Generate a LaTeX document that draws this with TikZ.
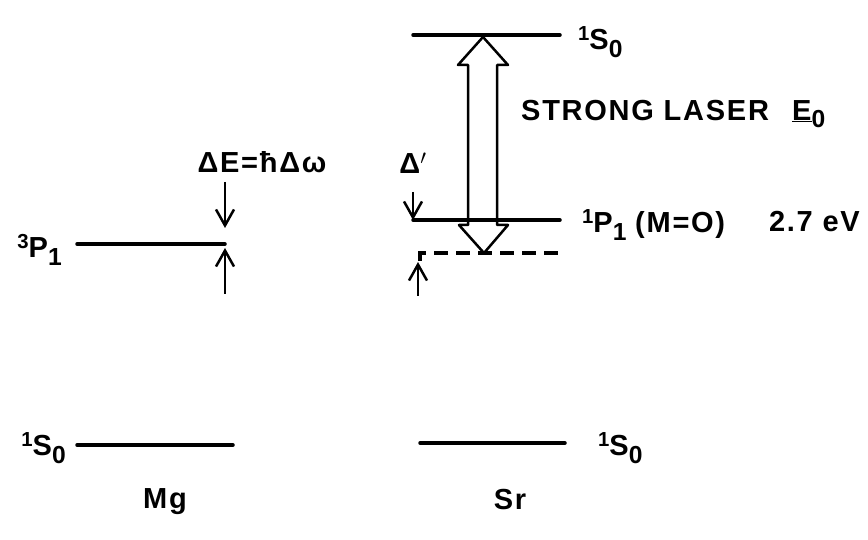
\documentclass[tikz,border=0pt]{standalone}
\usepackage{fontspec}
\setmainfont[LetterSpace=6]{Liberation Sans}
\usetikzlibrary{arrows.meta,calc}
\definecolor{ink}{HTML}{000000}
\newcommand{\term}[3]{\raisebox{0.6ex}{\scalebox{0.7}{#1}}#2\raisebox{-0.5ex}{\scalebox{0.85}{#3}}}

\begin{document}
\begin{tikzpicture}[x=1pt,y=-1pt,
    level/.style={ink,line width=3.5pt,line cap=round},
    shiftarrow/.style={ink,line width=2.5pt,-{Straight Barb[length=16pt,width=18pt,line width=2.5pt]}},
    lbl/.style={font=\fontsize{29}{32}\selectfont\bfseries,inner sep=0pt}]
    \useasboundingbox(0,0) rectangle (868,540);
    % Mg
    \coordinate (mgPa) at (77,244);
    \coordinate (mgPb) at (225,244);
    \coordinate (mgSa) at (77,445);
    \coordinate (mgSb) at (233,445);
    \coordinate (mgDtop) at (225,182);
    \coordinate (mgDtip) at (225,228);
    \coordinate (mgUbot) at (225,294);
    \coordinate (mgUtip) at (225,248);
    \draw[level](mgPa)--(mgPb);
    \draw[level](mgSa)--(mgSb);
    \draw[shiftarrow](mgDtop)--(mgDtip);
    \draw[shiftarrow](mgUbot)--(mgUtip);
    \node[lbl,anchor=east] (mgPlbl) at (62,250) {\term{3}{P}{1}};
    \node[lbl,anchor=east] (mgSlbl) at (66,448) {\term{1}{S}{0}};
    \node[lbl] (detune) at (262,162) {ΔE=ħΔω};
    \node[lbl] (mg) at (165,502) {Mg};
    % Sr
    \coordinate (srTa) at (413,35);
    \coordinate (srTb) at (560,35);
    \coordinate (srPa) at (413,220);
    \coordinate (srPb) at (560,220);
    \coordinate (srDa) at (420,253);
    \coordinate (srDb) at (560,253);
    \coordinate (srSa) at (420,443);
    \coordinate (srSb) at (565,443);
    \coordinate (srDtop) at (413,192);
    \coordinate (srUbot) at (418,296);
    \coordinate (srUtip) at (418,262);
    \coordinate (laserTop) at (483,37);
    \coordinate (laserBot) at (484,253);
    \draw[level](srTa)--(srTb);
    \draw[level](srPa)--(srPb);
    \draw[level](srSa)--(srSb);
    \draw[ink,line width=3.5pt,dash pattern=on 14pt off 8pt]($(srDa)+(0,8)$)--(srDa)--(srDb);
    \draw[shiftarrow](srDtop)--(srPa);
    \draw[shiftarrow](srUbot)--(srUtip);
    \draw[ink,line width=2.5pt,line join=round]
      (laserTop)--($(laserTop)+(25,28)$)--($(laserTop)+(14,28)$)
      --($(laserBot)+(13,-28)$)--($(laserBot)+(24,-28)$)--(laserBot)
      --($(laserBot)+(-25,-28)$)--($(laserBot)+(-16,-28)$)
      --($(laserTop)+(-15,28)$)--($(laserTop)+(-25,28)$)--cycle;
    \node[lbl,anchor=west] (srTlbl) at (578,42) {\term{1}{S}{0}};
    \node[lbl,anchor=west] (laser) at (521,114) {STRONG LASER\hspace{0.8em}\underline{E}\raisebox{-0.5ex}{\scalebox{0.85}{0}}};
    \node[lbl] (delta) at (413,163) {Δ$'$};
    \node[lbl,anchor=west] (srPlbl) at (582,225) {\term{1}{P}{1}\hspace{0.3em}(M=O)};
    \node[lbl,anchor=east] (ev) at (860,222) {2.7 eV};
    \node[lbl,anchor=west] (srSlbl) at (598,448) {\term{1}{S}{0}};
    \node[lbl] (sr) at (510,500) {Sr};
\end{tikzpicture}
\end{document}
